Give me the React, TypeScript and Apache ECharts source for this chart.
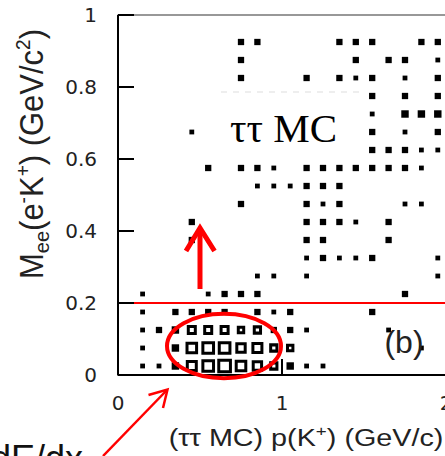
import React, { useEffect, useRef } from "react";
import * as echarts from "echarts";

// axis ticks
const xTickValues = [0, 1, 2];
const yTickValues = [0, 0.2, 0.4, 0.6, 0.8, 1];
const cutMee = 0.2;

// cells: [p(K+) bin centre (GeV/c), Mee bin centre (GeV/c^2), entries]
const lowMassCells: number[][] = [
  [0.15, 0.175, 1], [0.35, 0.175, 2], [0.45, 0.175, 2], [0.55, 0.175, 2], [0.65, 0.175, 2],
  [0.85, 0.175, 2], [0.95, 0.175, 1], [1.05, 0.175, 2], [1.55, 0.175, 2],
  [0.15, 0.125, 1], [0.25, 0.125, 2], [0.35, 0.125, 3], [0.45, 0.125, 6], [0.55, 0.125, 6],
  [0.65, 0.125, 6], [0.75, 0.125, 4], [0.85, 0.125, 5], [0.95, 0.125, 2], [1.05, 0.125, 2],
  [1.15, 0.125, 1], [1.65, 0.125, 1],
  [0.15, 0.075, 1], [0.35, 0.075, 3], [0.45, 0.075, 10], [0.55, 0.075, 12], [0.65, 0.075, 12],
  [0.75, 0.075, 8], [0.85, 0.075, 9], [0.95, 0.075, 5], [1.05, 0.075, 4], [1.85, 0.075, 1],
  [0.15, 0.025, 1], [0.25, 0.025, 1], [0.35, 0.025, 3], [0.45, 0.025, 9], [0.55, 0.025, 12],
  [0.65, 0.025, 14], [0.75, 0.025, 10], [0.85, 0.025, 8], [0.95, 0.025, 5], [1.05, 0.025, 3],
  [1.15, 0.025, 1], [1.25, 0.025, 1],
];

const midMassCells: number[][] = [
  [0.75, 0.475, 2], [1.15, 0.475, 2], [1.25, 0.475, 1], [1.35, 0.475, 2], [1.75, 0.475, 1], [1.85, 0.475, 1],
  [0.45, 0.425, 2], [1.15, 0.425, 2], [1.25, 0.425, 2], [1.35, 0.425, 2], [1.45, 0.425, 1], [1.65, 0.425, 2],
  [0.45, 0.375, 2], [1.15, 0.375, 2], [1.25, 0.375, 2], [1.65, 0.375, 2],
  [1.15, 0.325, 1], [1.25, 0.325, 2], [1.35, 0.325, 1], [1.45, 0.325, 1], [1.55, 0.325, 2], [1.95, 0.325, 1],
  [0.85, 0.275, 1], [0.95, 0.275, 1], [1.15, 0.275, 1], [1.95, 0.275, 1],
  [0.15, 0.225, 1], [0.55, 0.225, 1], [0.65, 0.225, 2], [0.75, 0.225, 2], [0.85, 0.225, 2], [1.75, 0.225, 2],
];

const highMassCells: number[][] = [
  [0.75, 0.925, 2], [0.85, 0.925, 2], [1.35, 0.925, 2], [1.45, 0.925, 2], [1.55, 0.925, 2], [1.85, 0.925, 2], [1.95, 0.925, 2],
  [0.75, 0.875, 2], [1.45, 0.875, 2], [1.65, 0.875, 2], [1.75, 0.875, 2], [1.95, 0.875, 1],
  [0.75, 0.825, 2], [1.15, 0.825, 2], [1.35, 0.825, 2], [1.45, 0.825, 1], [1.55, 0.825, 2], [1.75, 0.825, 1], [1.95, 0.825, 2],
  [1.55, 0.775, 2], [1.75, 0.775, 2], [1.95, 0.775, 2],
  [1.55, 0.725, 1], [1.75, 0.725, 3], [1.85, 0.725, 3], [1.95, 0.725, 3],
  [0.45, 0.675, 1], [1.55, 0.675, 2], [1.75, 0.675, 1], [1.95, 0.675, 2],
  [1.55, 0.625, 2], [1.65, 0.625, 2], [1.75, 0.625, 2], [1.85, 0.625, 1], [1.95, 0.625, 1],
  [0.55, 0.575, 2], [0.75, 0.575, 2], [0.85, 0.575, 2], [0.95, 0.575, 1], [1.15, 0.575, 2], [1.25, 0.575, 2],
  [1.35, 0.575, 2], [1.45, 0.575, 2], [1.55, 0.575, 2], [1.65, 0.575, 2], [1.75, 0.575, 2], [1.85, 0.575, 1],
  [0.85, 0.525, 1], [0.95, 0.525, 1], [1.05, 0.525, 1], [1.15, 0.525, 2], [1.25, 0.525, 2], [1.35, 0.525, 2],
];

const BORDER = 3;
function toItem(cell: number[]) {
  const n = cell[2];
  const side = 1.2 + 3.6 * Math.sqrt(n);
  const hollow = n >= 4;
  return {
    value: cell,
    symbolSize: hollow ? side - BORDER : side,
    itemStyle: hollow
      ? { color: "#ffffff", borderColor: "#000000", borderWidth: BORDER, opacity: 1 }
      : { color: "#000000", borderWidth: 0, opacity: 1 },
  };
}

const RED = "#ff0000";
const TICK_FONT = "DejaVu Sans";
const CHART_W = 470;
const CHART_H = 456;
const GRID_LEFT = 118;
const GRID_TOP = 15;
const GRID_RIGHT_PX = 446;
const GRID_BOTTOM_PX = 375;
const TICK_LEN = 16;

export default function App() {
  const ref = useRef<HTMLDivElement>(null);

  useEffect(() => {
    if (!ref.current) return;
    const chart = echarts.init(ref.current, undefined, { renderer: "svg" });
    const allCells = [...lowMassCells, ...midMassCells, ...highMassCells];

    const xMin = xTickValues[0];
    const xMax = xTickValues[xTickValues.length - 1];
    const yMin = yTickValues[0];
    const yMax = yTickValues[yTickValues.length - 1];
    // tick length of 16 px expressed in data units of the fixed grid
    const tickDX = (TICK_LEN / (GRID_RIGHT_PX - GRID_LEFT)) * (xMax - xMin);
    const tickDY = (TICK_LEN / (GRID_BOTTOM_PX - GRID_TOP)) * (yMax - yMin);

    const frameLineStyle = { color: "#000000", width: 2, opacity: 1, type: "solid" };
    const segment = (a: number[], b: number[]) => ({
      type: "line",
      data: [a, b],
      symbol: "none",
      showSymbol: false,
      lineStyle: frameLineStyle,
      itemStyle: { color: "#000000" },
      emphasis: { disabled: true },
      clip: false,
      z: 20,
      animation: false,
    });

    const frameSeries: any[] = [
      {
        ...segment([xMin, yMax], [xMin, yMin]),
        data: [
          [xMin, yMax],
          [xMin, yMin],
          [xMax, yMin],
        ],
      },
      ...xTickValues.map((v) => segment([v, yMin], [v, yMin + tickDY])),
      ...yTickValues.map((v) => segment([xMin, v], [xMin + tickDX, v])),
    ];

    const graphic: any[] = [
      {
        type: "line",
        shape: { x1: 221, y1: 92, x2: 362, y2: 92 },
        style: { stroke: "#dddddd", lineWidth: 1, lineDash: [6, 6] },
        z: 1,
      },
      {
        type: "text",
        x: 283.5,
        y: 128,
        style: { text: "ττ MC", font: "41px 'Liberation Serif'", fill: "#000", align: "center", verticalAlign: "middle" },
        z: 50,
      },
      {
        type: "text",
        x: 404,
        y: 342,
        style: { text: "(b)", font: "32px 'Liberation Sans'", fill: "#222", align: "center", verticalAlign: "middle" },
        z: 50,
      },
      {
        type: "text",
        x: -9,
        y: 458,
        style: { text: "dE/dx", font: "36px 'Liberation Sans'", fill: "#111", align: "left", verticalAlign: "middle" },
        z: 50,
      },
      {
        type: "text",
        x: 306,
        y: 438.5,
        scaleX: 1.25,
        style: {
          text: "{m|(ττ MC) p(K}{p|+}{m|) (GeV/c)}",
          align: "center",
          verticalAlign: "middle",
          fill: "#222",
          rich: {
            m: { fontFamily: "Liberation Sans", fontSize: 23, lineHeight: 30, fill: "#222", verticalAlign: "middle" },
            p: { fontFamily: "Liberation Sans", fontSize: 15, lineHeight: 15, fill: "#222", verticalAlign: "top" },
          },
        },
        z: 50,
      },
      {
        type: "text",
        x: 32,
        y: 154,
        rotation: Math.PI / 2,
        scaleY: 1.05,
        style: {
          text: "{m|M}{s|ee}{m|(e}{p|-}{m|K}{p|+}{m|) (GeV/c}{p|2}{m|)}",
          align: "center",
          verticalAlign: "middle",
          fill: "#222",
          rich: {
            m: { fontFamily: "Liberation Sans", fontSize: 31, lineHeight: 37, fill: "#222", verticalAlign: "middle" },
            p: { fontFamily: "Liberation Sans", fontSize: 19, lineHeight: 19, fill: "#222", verticalAlign: "top" },
            s: { fontFamily: "Liberation Sans", fontSize: 20, lineHeight: 20, fill: "#222", verticalAlign: "bottom" },
          },
        },
        z: 50,
      },
      { type: "line", shape: { x1: 200, y1: 289, x2: 200, y2: 230 }, style: { stroke: RED, lineWidth: 5 }, z: 60 },
      {
        type: "polyline",
        shape: { points: [[186, 251], [200, 228], [214.5, 251]] },
        style: { stroke: RED, lineWidth: 5, fill: "none" },
        z: 60,
      },
      {
        type: "ellipse",
        shape: { cx: 224, cy: 346, rx: 57, ry: 32.3 },
        style: { stroke: RED, lineWidth: 4, fill: "none" },
        z: 60,
      },
      { type: "line", shape: { x1: 103, y1: 456, x2: 167, y2: 390 }, style: { stroke: RED, lineWidth: 2.5 }, z: 60 },
      {
        type: "polyline",
        shape: { points: [[148.5, 395], [167.5, 389.5], [163, 408]] },
        style: { stroke: RED, lineWidth: 2.5, fill: "none" },
        z: 60,
      },
    ];

    chart.setOption({
      animation: false,
      backgroundColor: "#ffffff",
      grid: {
        left: GRID_LEFT,
        right: CHART_W - GRID_RIGHT_PX,
        top: GRID_TOP,
        bottom: CHART_H - GRID_BOTTOM_PX,
        outerBoundsMode: "none",
      },
      xAxis: [
        {
          type: "value",
          min: xMin,
          max: xMax,
          interval: 1,
          axisLine: { show: false },
          axisTick: { show: false },
          axisLabel: { show: true, margin: 18, fontFamily: TICK_FONT, fontSize: 20, color: "#222" },
          splitLine: { show: false },
        },
        {
          type: "value",
          position: "top",
          min: xMin,
          max: xMax,
          interval: 1,
          axisLine: { show: true, onZero: false, lineStyle: { color: "#777777", width: 1.5 } },
          axisTick: { show: false },
          axisLabel: { show: false },
          splitLine: { show: false },
        },
      ],
      yAxis: {
        type: "value",
        min: yMin,
        max: yMax,
        interval: 0.2,
        axisLine: { show: false },
        axisTick: { show: false },
        axisLabel: {
          show: true,
          margin: 21,
          fontFamily: TICK_FONT,
          fontSize: 20,
          color: "#222",
          formatter: (v: number) => (v === 0 || v === 1 ? String(v) : v.toFixed(1)),
        },
        splitLine: { show: false },
      },
      series: [
        {
          type: "scatter",
          symbol: "rect",
          data: allCells.map(toItem),
          markLine: {
            symbol: ["none", "none"],
            label: { show: false },
            lineStyle: { color: RED, width: 2, type: "solid", opacity: 1 },
            emphasis: { disabled: true },
            data: [{ yAxis: cutMee }],
          },
        },
        ...frameSeries,
      ],
      graphic,
    });

    return () => chart.dispose();
  }, []);

  return (
    <div style={{ position: "absolute", left: 0, top: 0, width: 445, height: 456, overflow: "hidden", background: "#fff" }}>
      <div ref={ref} style={{ width: CHART_W, height: CHART_H }} />
    </div>
  );
}
